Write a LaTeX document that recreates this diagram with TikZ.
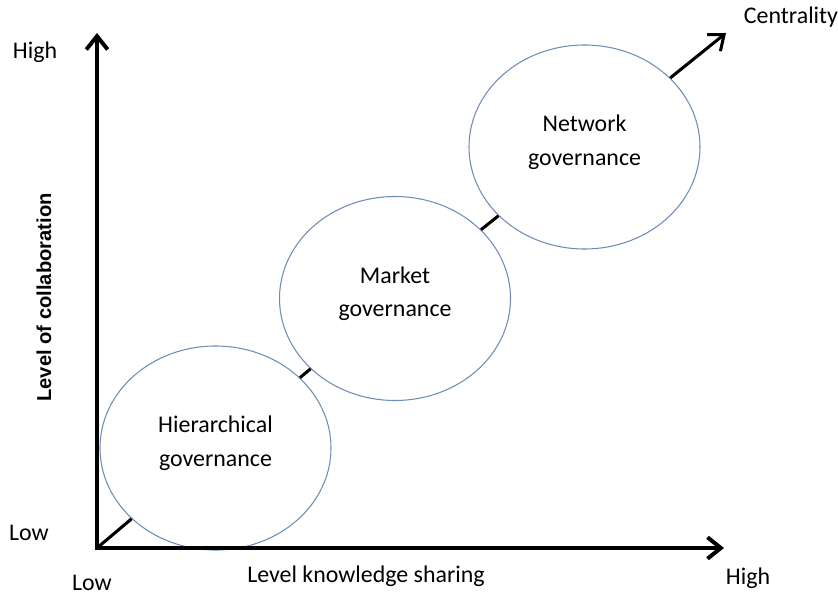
\documentclass[tikz,border=0pt]{standalone}
\usepackage{fontspec}
\setmainfont{Carlito}
\newfontfamily\axisfont{Liberation Sans}
\usetikzlibrary{arrows.meta, shapes.geometric, positioning}
\definecolor{govEdge}{HTML}{6F8DB5}
\newcommand{\lblsize}{\fontsize{20.4}{28.9}\selectfont}
\tikzset{
  axisArrow/.style={{Straight Barb[length=4mm,width=6.4mm]}-{Straight Barb[length=4mm,width=6.4mm]},
                    line width=3.4pt, line join=miter},
  linkLine/.style={line width=2.6pt},
  linkArrow/.style={-{Straight Barb[length=4mm,width=6.4mm]}, line width=2.6pt},
  govBox/.style={ellipse, draw=govEdge, line width=0.9pt, fill=white,
                 minimum width=6.93cm, minimum height=6.12cm, inner sep=0pt,
                 label={[lbl, align=center, yshift=4pt]center:#1}},
  lbl/.style={font=\lblsize, inner sep=0pt},
}

\begin{document}
\begin{tikzpicture}[x=0.03cm, y=-0.03cm]
  \useasboundingbox (0,0) rectangle (838,597);
  \coordinate (origin) at (97,548);
  \coordinate (ytip) at (97,33);
  \coordinate (xtip) at (724,548);
  \coordinate (cent) at (726,33);

  % the three governance modes
  \node[govBox={Hierarchical\\governance}] (hier) at (215.5,448) {};
  \node[govBox={Market\\governance}] (market) at (395,298.5) {};
  \node[govBox={Network\\governance}] (network) at (584.5,147) {};

  \draw[linkLine] (origin) -- (hier);
  \draw[linkLine] (hier) -- (market);
  \draw[linkLine] (market) -- (network);
  \draw[linkArrow] (network) -- (cent);

  % axes
  \draw[axisArrow] (ytip) -- (origin) -- (xtip);

  \node[lbl] (yhigh) at (35,52) {High};
  \node[lbl] (ylow) at (29,533) {Low};
  \node[lbl] (xlow) at (92,583) {Low};
  \node[lbl] (xhigh) at (748,578) {High};
  \node[lbl] (centlbl) at (791,17) {Centrality};
  \node[lbl] (xlbl) at (366,576) {Level knowledge sharing};
  \node[inner sep=0pt, rotate=90, font=\axisfont\bfseries\fontsize{17.2}{20}\selectfont]
    (ylbl) at (44,297.5) {Level of collaboration};
\end{tikzpicture}
\end{document}
